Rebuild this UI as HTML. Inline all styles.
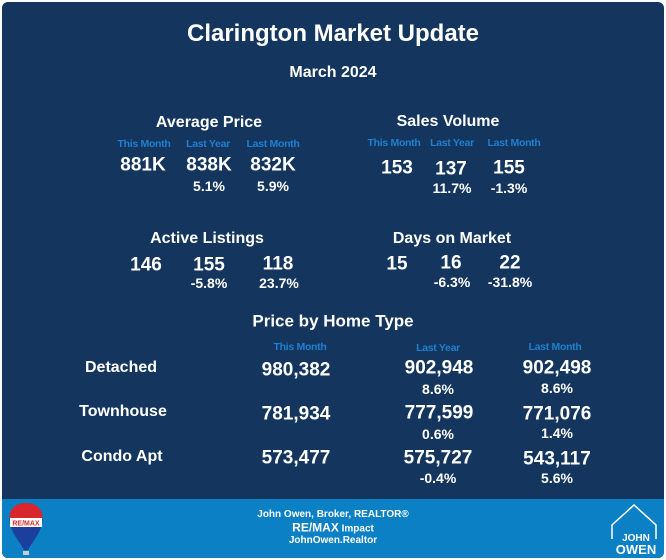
<!DOCTYPE html>
<html><head><meta charset="utf-8"><style>
html,body{margin:0;padding:0;width:666px;height:560px;overflow:hidden;background:#fff}
#card{position:absolute;left:2px;top:2px;width:662px;height:556px;background:#14365e;border-radius:6px;overflow:hidden}
.t{position:absolute;transform:translate(-50%,-50%);white-space:nowrap;color:#fff;font-family:"Liberation Sans",sans-serif;font-weight:bold;line-height:1}
.l{color:#1f7fd0;font-size:10.5px;font-weight:bold;letter-spacing:-0.3px}
.h{font-size:16px}.v{font-size:19px}.p{font-size:14px}.big{font-size:19px}
#footer{position:absolute;left:0;top:497px;width:662px;height:59px;background:#0b80c4}
.f{font-size:10px;color:#fff}
</style></head><body>
<div id="card">
<div class="t" style="left:331px;top:32px;font-size:24px">Clarington Market Update</div>
<div class="t" style="left:331px;top:71px;font-size:16px">March 2024</div>

<div class="t h" style="left:207px;top:121px">Average Price</div>
<div class="t l" style="left:142px;top:142px">This Month</div>
<div class="t l" style="left:206px;top:142px">Last Year</div>
<div class="t l" style="left:271px;top:142px">Last Month</div>
<div class="t v" style="left:141px;top:163px">881K</div>
<div class="t v" style="left:207px;top:163px">838K</div>
<div class="t v" style="left:271px;top:163px">832K</div>
<div class="t p" style="left:207px;top:184px">5.1%</div>
<div class="t p" style="left:271px;top:184px">5.9%</div>

<div class="t h" style="left:446px;top:120px">Sales Volume</div>
<div class="t l" style="left:392px;top:141px">This Month</div>
<div class="t l" style="left:450px;top:141px">Last Year</div>
<div class="t l" style="left:512px;top:141px">Last Month</div>
<div class="t v" style="left:395px;top:166px">153</div>
<div class="t v" style="left:449px;top:167px">137</div>
<div class="t v" style="left:507px;top:166px">155</div>
<div class="t p" style="left:450px;top:186px">11.7%</div>
<div class="t p" style="left:507px;top:186px">-1.3%</div>

<div class="t h" style="left:205px;top:237px">Active Listings</div>
<div class="t v" style="left:144px;top:263px">146</div>
<div class="t v" style="left:207px;top:263px">155</div>
<div class="t v" style="left:276px;top:262px">118</div>
<div class="t p" style="left:207px;top:281px">-5.8%</div>
<div class="t p" style="left:277px;top:281px">23.7%</div>

<div class="t h" style="left:450px;top:237px">Days on Market</div>
<div class="t v" style="left:395px;top:262px">15</div>
<div class="t v" style="left:449px;top:261px">16</div>
<div class="t v" style="left:508px;top:261px">22</div>
<div class="t p" style="left:450px;top:280px">-6.3%</div>
<div class="t p" style="left:508px;top:280px">-31.8%</div>

<div class="t h" style="left:331px;top:319px;font-size:17px">Price by Home Type</div>
<div class="t l" style="left:298px;top:345px">This Month</div>
<div class="t l" style="left:436px;top:346px">Last Year</div>
<div class="t l" style="left:553px;top:345px">Last Month</div>

<div class="t h" style="left:119px;top:366px">Detached</div>
<div class="t big" style="left:294px;top:368px">980,382</div>
<div class="t big" style="left:437px;top:366px">902,948</div>
<div class="t big" style="left:555px;top:366px">902,498</div>
<div class="t p" style="left:436px;top:387px">8.6%</div>
<div class="t p" style="left:555px;top:386px">8.6%</div>

<div class="t h" style="left:121px;top:410px">Townhouse</div>
<div class="t big" style="left:294px;top:412px">781,934</div>
<div class="t big" style="left:437px;top:411px">777,599</div>
<div class="t big" style="left:555px;top:412px">771,076</div>
<div class="t p" style="left:436px;top:432px">0.6%</div>
<div class="t p" style="left:555px;top:431px">1.4%</div>

<div class="t h" style="left:120px;top:455px">Condo Apt</div>
<div class="t big" style="left:294px;top:456px">573,477</div>
<div class="t big" style="left:436px;top:456px">575,727</div>
<div class="t big" style="left:555px;top:457px">543,117</div>
<div class="t p" style="left:436px;top:476px">-0.4%</div>
<div class="t p" style="left:555px;top:476px">5.6%</div>

<div id="footer">
<svg width="40" height="58" style="position:absolute;left:4px;top:1px">
<path d="M20 3 C6 3 2 14 4 24 C6 34 14 42 18 50 L22 50 C26 42 34 34 36 24 C38 14 34 3 20 3Z" fill="#1a3f9c"/>
<path d="M20 3 C6 3 2 14 4 20 L36 20 C38 14 34 3 20 3Z" fill="#d9262c"/>
<rect x="4" y="18" width="32" height="9" fill="#fff"/>
<text x="20" y="25.5" font-size="7" font-weight="bold" fill="#d9262c" text-anchor="middle" font-family="Liberation Sans">RE/MAX</text>
<rect x="17" y="51" width="6" height="4" fill="#ccc"/>
</svg>
<div class="t f" style="left:331px;top:16px">John Owen, Broker, REALTOR®</div>
<div class="t f" style="left:331px;top:29px"><span style="font-size:12px">RE/MAX</span> Impact</div>
<div class="t f" style="left:331px;top:42px">JohnOwen.Realtor</div>
<svg width="52" height="58" style="position:absolute;left:606px;top:0">
<path d="M4 40 L4 26 L26 6 L48 26 L48 40" fill="none" stroke="#fff" stroke-width="1.5"/>
<text x="28" y="42" font-size="10" font-weight="bold" fill="#fff" text-anchor="middle" font-family="Liberation Sans">JOHN</text>
<text x="28" y="55" font-size="13" font-weight="bold" fill="#fff" text-anchor="middle" font-family="Liberation Sans">OWEN</text>
</svg>
</div>
</div>
</body></html>
